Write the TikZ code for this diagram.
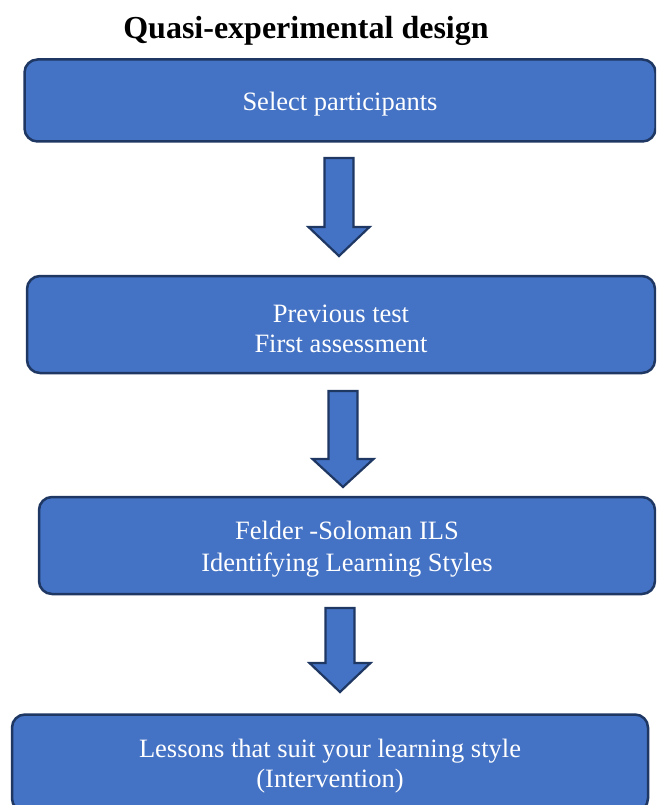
\documentclass[tikz,border=0pt]{standalone}
\usepackage{fontspec}
\setmainfont{Liberation Serif}
\definecolor{boxfill}{HTML}{4472C4}
\definecolor{boxline}{HTML}{1F3763}
\newcommand\topgap{\rule{0pt}{25.5pt}}
\begin{document}
\begin{tikzpicture}[x=1pt,y=-1pt,
  stepbox/.style={draw=boxline, fill=boxfill, line width=2.5pt, rounded corners=13pt,
    text=white, align=center, inner sep=0pt,
    font=\fontsize{26.5}{30}\selectfont},
  blockarrow/.style={draw=boxline, fill=boxfill, line width=2.2pt, line join=miter}]
\useasboundingbox (0,0) rectangle (656,805);
\clip (0,0) rectangle (656,805);
\node[font=\fontsize{32}{36}\selectfont\bfseries] (title) at (306,31) {Quasi-experimental design};
\node[stepbox, minimum width=631pt, minimum height=82pt] (b1) at (340,100.5) {\topgap Select participants};
\node[stepbox, minimum width=628pt, minimum height=97pt] (b2) at (341,324.5) {\topgap Previous test\\First assessment};
\node[stepbox, minimum width=616pt, minimum height=97pt, font=\fontsize{26.5}{32}\selectfont] (b3) at (347,545.5) {\topgap Felder -Soloman ILS\\Identifying Learning Styles};
\node[stepbox, minimum width=636pt, minimum height=97pt] (b4) at (330,763) {\topgap Lessons that suit your learning style\\(Intervention)};
% block arrows: x, top, neck, tip
\newcommand\blkarrow[5]{%
  \draw[blockarrow] (#1-14.5,#2) -- (#1+14.5,#2) -- (#1+14.5,#3) -- (#1+30.5,#3)
    -- (#1,#4) -- (#1-30.5,#3) -- (#1-14.5,#3) -- cycle;
  \coordinate (#5) at (#1,#4);}
\blkarrow{339}{158}{227}{256}{a1}
\blkarrow{343}{391}{459}{487}{a2}
\blkarrow{340}{608}{663}{692}{a3}
\end{tikzpicture}
\end{document}
